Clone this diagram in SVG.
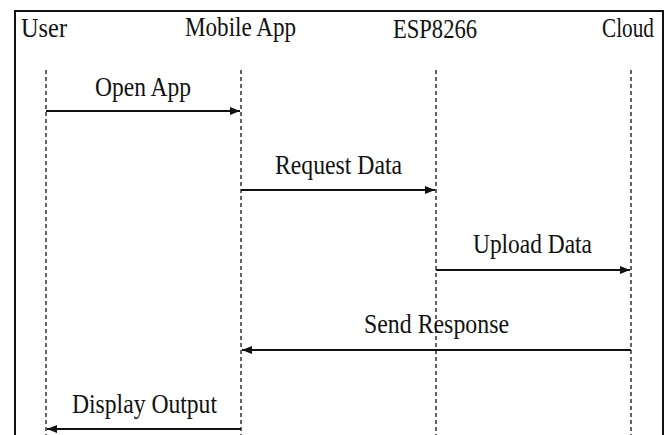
<svg xmlns="http://www.w3.org/2000/svg" width="669" height="435" viewBox="0 0 669 435">
  <style>
    .label { font-family: "Liberation Serif", "DejaVu Serif", serif; font-size: 28px; fill: #111; }
    .head { font-size: 27px; }
    .life { stroke: #222; stroke-width: 1.4; stroke-dasharray: 4 3; fill: none; }
    .msg { stroke: #111; stroke-width: 2; fill: none; marker-end: url(#head); }
  </style>
  <defs>
    <marker id="head" viewBox="0 0 10 8" refX="10" refY="4" markerWidth="10" markerHeight="8" markerUnits="userSpaceOnUse" orient="auto">
      <path d="M0,0 L10,4 L0,8 z" fill="#111"/>
    </marker>
  </defs>
  <rect width="669" height="435" fill="#fff"/>
  <!-- outer frame, open at the bottom -->
  <path d="M15,440 V11 H663 V440" fill="none" stroke="#111" stroke-width="2"/>

  <g id="user">
    <text class="label head" x="21" y="37" textLength="46" lengthAdjust="spacingAndGlyphs">User</text>
    <line class="life" x1="46" y1="70" x2="46" y2="435"/>
  </g>
  <g id="mobile-app">
    <text class="label head" x="185" y="36" textLength="111" lengthAdjust="spacingAndGlyphs">Mobile App</text>
    <line class="life" x1="241" y1="70" x2="241" y2="435"/>
  </g>
  <g id="esp8266">
    <text class="label head" x="393" y="38" textLength="84" lengthAdjust="spacingAndGlyphs">ESP8266</text>
    <line class="life" x1="436" y1="70" x2="436" y2="435"/>
  </g>
  <g id="cloud">
    <text class="label head" x="602" y="37" textLength="52" lengthAdjust="spacingAndGlyphs">Cloud</text>
    <line class="life" x1="631" y1="70" x2="631" y2="435"/>
  </g>

  <g id="messages">
    <line class="msg" x1="46" y1="111" x2="240" y2="111"/>
    <text class="label" x="95" y="96" textLength="96" lengthAdjust="spacingAndGlyphs">Open App</text>

    <line class="msg" x1="241" y1="190" x2="435" y2="190"/>
    <text class="label" x="275" y="174" textLength="127" lengthAdjust="spacingAndGlyphs">Request Data</text>

    <line class="msg" x1="436" y1="270" x2="630" y2="270"/>
    <text class="label" x="473" y="253" textLength="119" lengthAdjust="spacingAndGlyphs">Upload Data</text>

    <line class="msg" x1="631" y1="350" x2="242" y2="350"/>
    <text class="label" x="364" y="333" textLength="145" lengthAdjust="spacingAndGlyphs">Send Response</text>

    <line class="msg" x1="241" y1="429" x2="47" y2="429"/>
    <text class="label" x="72" y="413" textLength="145" lengthAdjust="spacingAndGlyphs">Display Output</text>
  </g>
</svg>
